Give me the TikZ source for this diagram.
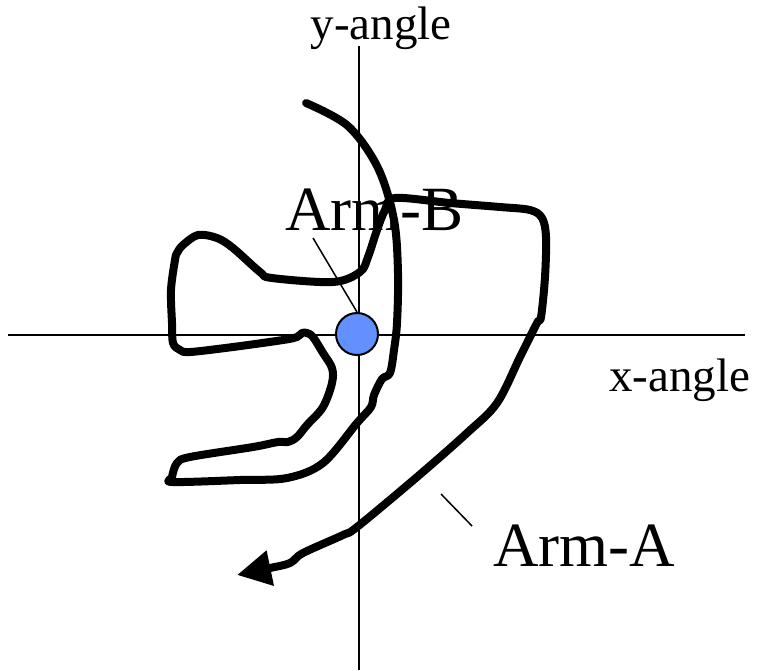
\documentclass[tikz,border=0pt]{standalone}
\usepackage{fontspec}
\setmainfont{Liberation Serif}
\usetikzlibrary{arrows.meta,positioning}
\tikzset{
  tengely/.style={line width=2pt},
  kar/.style={line width=8pt,line cap=round,line join=round},
  vezeto/.style={line width=1.5pt},
  nagy/.style={inner sep=0pt,font=\fontsize{63}{63}\selectfont},
  kicsi/.style={inner sep=0pt,font=\fontsize{47}{47}\selectfont},
  pont/.style={circle,draw,line width=2pt,fill={rgb,255:red,98;green,144;blue,255},
    minimum width=38pt,minimum height=42pt,inner sep=0pt},
}
\begin{document}
\begin{tikzpicture}[x=1pt,y=-1pt]
  \useasboundingbox (0,0) rectangle (759,670);
  \coordinate (xbal) at (8,335);   \coordinate (xjobb) at (745,335);
  \coordinate (yfel) at (359,46);  \coordinate (yle) at (359,670);
  \draw[tengely] (xbal) -- (xjobb);
  \draw[tengely] (yfel) -- (yle);
  \node[kicsi,anchor=base] (yangle) at (381,39) {y-angle};
  \node[kicsi,anchor=base west] (xangle) at (609,391) {x-angle};
  \draw[kar,-{Triangle[length=34pt,width=34pt]}] plot[smooth,tension=0.55] coordinates {
    (306,103) (348,126) (378,168) (394,220) (398,273) (397,323)
    (394,350) (390,373) (382,379) (374,395) (371,407) (357,423) (323,463)
    (287,478) (240,480) (173,482) (172,477) (177,463) (190,457) (253,447)
    (278,442) (288,442) (297,437) (307,425) (323,407) (332,383) (332,368)
    (323,353) (313,337) (307,333) (302,333) (297,337) (283,340) (233,347)
    (190,352) (180,350) (173,343) (172,323) (171,290) (175,260) (177,253)
    (183,245) (198,235) (217,238) (233,248) (260,272) (272,278) (333,282)
    (360,272) (368,257) (377,230) (385,210) (395,198) (450,203) (500,207)
    (530,210) (542,218) (546,237) (545,277) (541,317) (537,323) (520,357)
    (497,403) (467,433) (417,477) (357,527) (343,535) (303,553) (290,563)
    (270,568) (237,575)};
  \node[pont] (dot) at (357,334) {};
  \node[nagy,anchor=base west] (armB) at (285,230) {Arm-B};
  \node[nagy,anchor=base west] (armA) at (493,566) {Arm-A};
  \coordinate (bvonal) at (313,238);
  \coordinate (avonal1) at (441,494); \coordinate (avonal2) at (472,526);
  \draw[vezeto] (bvonal) -- (dot.north);
  \draw[vezeto] (avonal1) -- (avonal2);
\end{tikzpicture}
\end{document}
